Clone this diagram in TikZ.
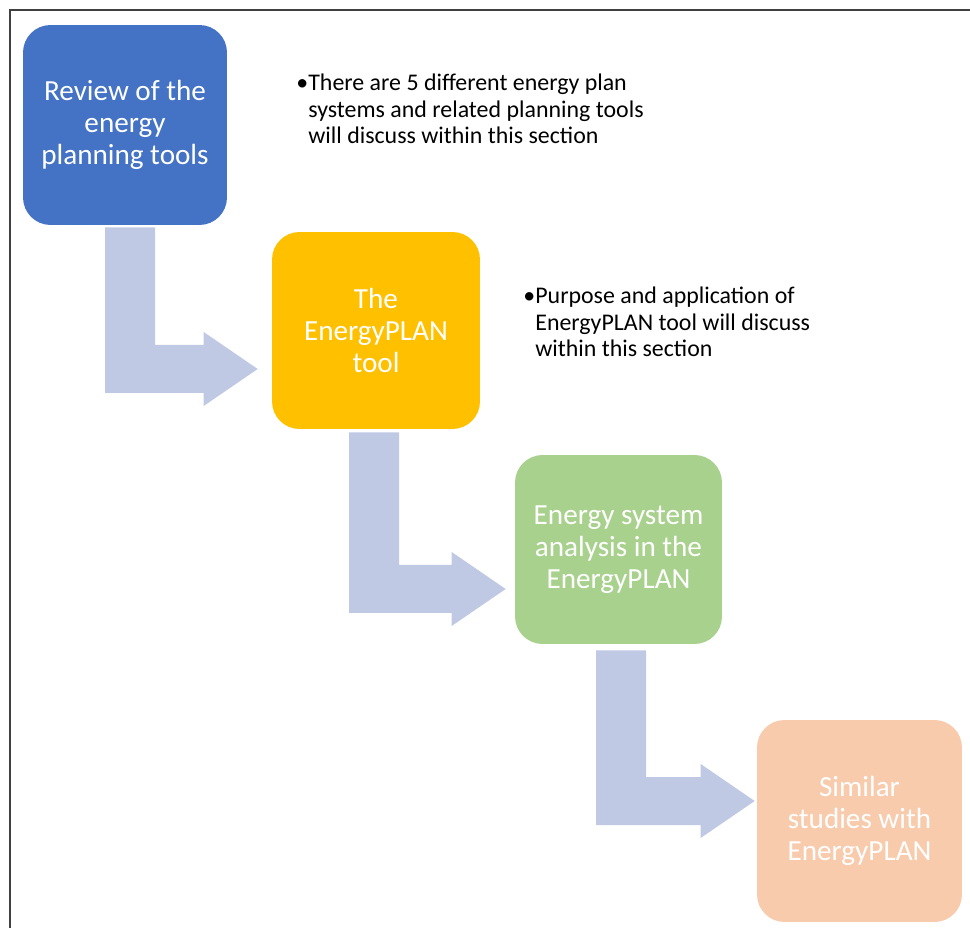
\documentclass[tikz,border=0pt]{standalone}
\usepackage{fontspec}
\setmainfont{Carlito}
\usetikzlibrary{calc}
\definecolor{planblue}{HTML}{4472C4}
\definecolor{planyellow}{HTML}{FFC000}
\definecolor{plangreen}{HTML}{A9D18E}
\definecolor{planorange}{HTML}{F8CBAD}
\definecolor{arrowblue}{HTML}{BFC9E3}
\definecolor{framegray}{HTML}{404040}
\tikzset{
  stage/.style={rounded corners=0.55cm,text=white,align=center,inner sep=0pt,
    font=\fontsize{16.6}{18.2}\selectfont},
  note/.style={align=left,anchor=west,inner sep=0pt,
    font=\fontsize{13.6}{15.2}\selectfont},
  flowarrow/.style={fill=arrowblue}
}
% bent block arrow: #1 = top of the stem, #2 = tip
\newcommand\bentarrow[2]{%
  \fill[flowarrow] ($(#1)+(-25,0)$) -- ($(#1)+(25,0)$) -- ($(#1 |- #2)+(25,-24)$)
    -- ($(#2)+(-54,-24)$) -- ($(#2)+(-54,-37)$) -- (#2) -- ($(#2)+(-54,37)$)
    -- ($(#2)+(-54,24)$) -- ($(#1 |- #2)+(-25,24)$) -- cycle;}

\begin{document}
\begin{tikzpicture}[x=0.02cm,y=-0.02cm]
\useasboundingbox (0,0) rectangle (970,928);
\draw[framegray,line width=0.9pt] (10,928) -- (10,10) -- (970,10);

\node[stage,fill=planblue,minimum width=4.08cm,minimum height=4cm] (review) at (125,125) {Review of the\\energy\\planning tools};
\node[stage,fill=planyellow,minimum width=4.16cm,minimum height=3.94cm] (tool) at (376,330.5) {The\\EnergyPLAN\\tool};
\node[stage,fill=plangreen,minimum width=4.14cm,minimum height=3.78cm] (analysis) at (618.5,549.5) {Energy system\\analysis in the\\EnergyPLAN};
\node[stage,fill=planorange,minimum width=4.1cm,minimum height=4.04cm] (similar) at (859.5,821) {Similar\\studies with\\EnergyPLAN};

\node[note] (note1) at (308,109) {\llap{•}There are 5 different energy plan\\systems and related planning tools\\will discuss within this section};
\node[note] (note2) at (535,322) {\llap{•}Purpose and application of\\EnergyPLAN tool will discuss\\within this section};

\coordinate (s1) at ($(review.south)+(5,2)$);
\coordinate (t1) at ($(tool.west)+(-14,38.5)$);
\coordinate (s2) at ($(tool.south)+(-2,3)$);
\coordinate (t2) at ($(analysis.west)+(-9,39.5)$);
\coordinate (s3) at ($(analysis.south)+(2.5,6)$);
\coordinate (t3) at ($(similar.west)+(-2,-20)$);
\bentarrow{s1}{t1}
\bentarrow{s2}{t2}
\bentarrow{s3}{t3}
\end{tikzpicture}
\end{document}
